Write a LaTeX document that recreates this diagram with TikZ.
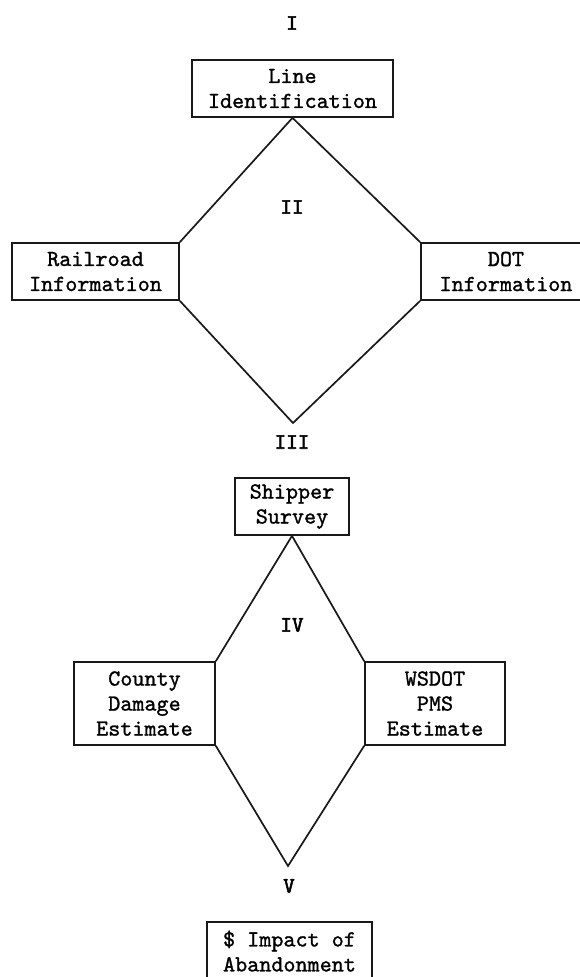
\documentclass[tikz,border=0pt]{standalone}
\usepackage{fontspec}
\newfontfamily\twfont{lmmono10-regular.otf}[FakeBold=1.2]
\newfontfamily\twnumfont{lmmono10-regular.otf}[FakeBold=2.5]
\begin{document}
\begin{tikzpicture}[x={(1pt,0pt)},y={(0pt,-1pt)},
  txt/.style={font=\twfont\fontsize{23}{25}\selectfont},
  box/.style={txt, draw=black!90, line width=1.7pt, inner sep=0pt, align=center},
  num/.style={font=\twnumfont\fontsize{22}{24}\selectfont, inner sep=0pt},
  link/.style={draw=black!90, line width=1.7pt}]
\useasboundingbox (0,0) rectangle (580,977);
\clip (0,0) rectangle (580,977);
% stage labels
\node[num] (n1) at (292,23) {I};
\node[num] (n2) at (292,207) {II};
\node[num] (n3) at (292,442) {III};
\node[num] (n4) at (292,625) {IV};
\node[num] (n5) at (289,886) {V};
% boxes
\node[box, minimum width=201pt, minimum height=57pt] (lineid) at (292.5,88.5) {Line\\Identification};
\node[box, minimum width=167pt, minimum height=57pt] (rail) at (95.5,271.5) {Railroad\\Information};
\node[box, minimum width=170pt, minimum height=57pt] (dot) at (506,271.5) {DOT\\Information};
\node[box, minimum width=114pt, minimum height=57pt] (ship) at (292,506.5) {Shipper\\Survey};
\node[box, minimum width=141pt, minimum height=83pt] (county) at (144.5,703.5) {County\\Damage\\Estimate};
\node[box, minimum width=140pt, minimum height=83pt] (wsdot) at (435,703.5) {WSDOT\\PMS\\Estimate};
\node[box, minimum width=165pt, minimum height=58pt] (impact) at (289.5,951) {\$ Impact of\\Abandonment};
% vertices
\coordinate (b1) at (293,423);
\coordinate (b2) at (288,866);
% connectors
\draw[link] (rail.north east) -- (lineid.south) -- (dot.north west);
\draw[link] (rail.south east) -- (b1) -- (dot.south west);
\draw[link] (county.north east) -- (ship.south) -- (wsdot.north west);
\draw[link] (county.south east) -- (b2) -- (wsdot.south west);
\end{tikzpicture}
\end{document}
